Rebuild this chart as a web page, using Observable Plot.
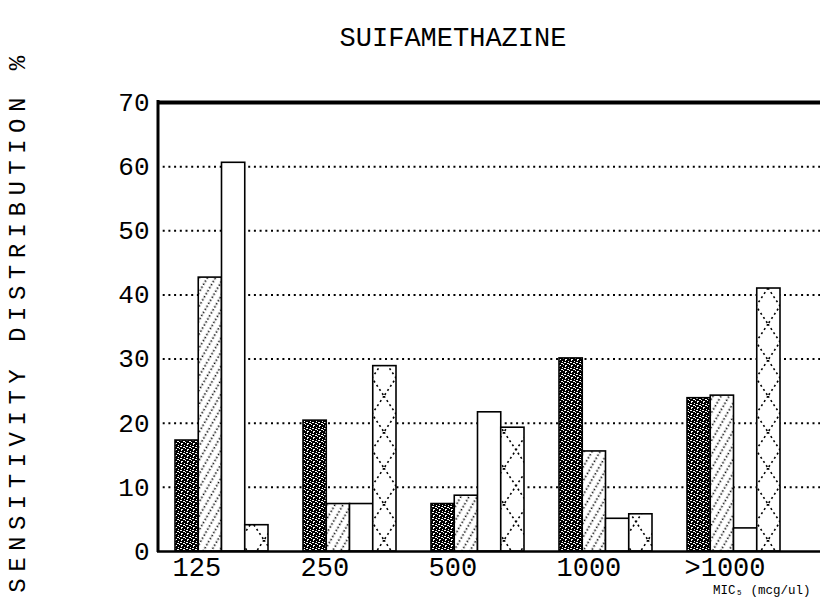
<!DOCTYPE html>
<html>
<head>
<meta charset="utf-8">
<script src="https://cdn.jsdelivr.net/npm/d3@7"></script>
<script src="https://cdn.jsdelivr.net/npm/@observablehq/plot@0.6"></script>
<style>
  html, body { margin: 0; padding: 0; background: white; }
</style>
</head>
<body>
<div id="chart"></div>
<script>
// ---- data ----
const groups = ["125", "250", "500", "1000", ">1000"];
const series1 = [17.3, 20.4, 7.4, 30.1, 23.9];   // dense stipple
const series2 = [42.7, 7.4, 8.7, 15.6, 24.3];    // diagonal hatch
const series3 = [60.6, 7.4, 21.7, 5.1, 3.6];     // plain white
const series4 = [4.1, 28.9, 19.3, 5.8, 41.0];    // cross hatch
const yTicks = [0, 10, 20, 30, 40, 50, 60, 70];
const gridTicks = [10, 20, 30, 40, 50, 60];
const title = "SUIFAMETHAZINE";
const yLabel = "SENSITIVITY DISTRIBUTION %";
const xNote = "MIC\u2085 (mcg/ul)";

const seriesList = [series1, series2, series3, series4];
const fills = ["url(#p1)", "url(#p2)", "white", "url(#p4)"];
const rows = groups.map((g, i) => ({group: g, v: seriesList.map(s => s[i])}));

const FONT = "Liberation Mono, DejaVu Sans Mono, monospace";
// within a 128px group band the four bars occupy 18..111
const barMarks = seriesList.map((s, k) =>
  Plot.barY(rows, {
    x: "group",
    y: d => d.v[k],
    fill: fills[k],
    stroke: "black",
    strokeWidth: 1.6,
    insetLeft: 18 + 23.25 * k,
    insetRight: 110 - 23.25 * (k + 1)
  })
);

const leftAxisLine = (index, scales, values, dims) =>
  d3.create("svg:line")
    .attr("x1", dims.marginLeft + 1).attr("x2", dims.marginLeft + 1)
    .attr("y1", dims.marginTop - 2).attr("y2", dims.height - dims.marginBottom + 1)
    .attr("stroke", "black").attr("stroke-width", 3).node();

const svg = Plot.plot({
  width: 820,
  height: 600,
  marginTop: 102,
  marginBottom: 49,
  marginLeft: 157,
  marginRight: 0,
  style: {background: "white", fontFamily: FONT, color: "black"},
  x: {type: "band", domain: groups, range: [157, 797], padding: 0, axis: null},
  y: {domain: [0, 70], label: null},
  marks: [
    Plot.ruleY(gridTicks, {stroke: "black", strokeWidth: 2, strokeDasharray: "2,3.7"}),
    ...barMarks,
    Plot.ruleY([70], {stroke: "black", strokeWidth: 4}),
    Plot.ruleY([0], {stroke: "black", strokeWidth: 2.5}),
    leftAxisLine,
    Plot.axisY({ticks: yTicks, tickSize: 0, tickPadding: 8, fontSize: 26, fontFamily: FONT, label: null}),
    Plot.text(groups, {x: d => d, frameAnchor: "bottom", lineAnchor: "middle", dy: 16, dx: -49,
      textAnchor: "start", fontSize: 27, fontFamily: FONT}),
    Plot.text([title], {frameAnchor: "top", lineAnchor: "middle", textAnchor: "middle", dx: -36, dy: -65,
      fontSize: 27, fontFamily: FONT}),
    Plot.text([yLabel], {frameAnchor: "left", lineAnchor: "middle", textAnchor: "middle", dx: -140, dy: -6,
      rotate: -90, fontSize: 24, fontFamily: FONT}),
    Plot.text([xNote], {frameAnchor: "bottom-right", lineAnchor: "middle", dx: -10, dy: 38, textAnchor: "end",
      fontSize: 12.5, fontFamily: FONT})
  ]
});

// widen the letter spacing of the rotated axis title
d3.select(svg).selectAll("text").filter(function() { return this.textContent === yLabel; })
  .attr("letter-spacing", 6.5);

// patterns
const defs = d3.select(svg).insert("defs", ":first-child");
const p1 = defs.append("pattern").attr("id", "p1").attr("patternUnits", "userSpaceOnUse")
  .attr("width", 6).attr("height", 6);
p1.append("rect").attr("width", 6).attr("height", 6).attr("fill", "black");
[[1,0,1,1],[4,1,1,1],[0,2,2,1],[3,3,2,1],[5,4,1,1],[1,5,2,1]].forEach(([x,y,w,h]) =>
  p1.append("rect").attr("x", x).attr("y", y).attr("width", w).attr("height", h).attr("fill", "white"));

const p2 = defs.append("pattern").attr("id", "p2").attr("patternUnits", "userSpaceOnUse")
  .attr("width", 7).attr("height", 7).attr("patternTransform", "rotate(30)");
p2.append("rect").attr("width", 7).attr("height", 7).attr("fill", "white");
p2.append("line").attr("x1", 3.5).attr("x2", 3.5).attr("y1", 0).attr("y2", 7)
  .attr("stroke", "black").attr("stroke-width", 1.6).attr("stroke-dasharray", "1.6,1.9");

const p4 = defs.append("pattern").attr("id", "p4").attr("patternUnits", "userSpaceOnUse")
  .attr("width", 24).attr("height", 36);
p4.append("rect").attr("width", 24).attr("height", 36).attr("fill", "white");
p4.append("line").attr("x1", 0).attr("y1", 0).attr("x2", 24).attr("y2", 36)
  .attr("stroke", "black").attr("stroke-width", 1.6).attr("stroke-dasharray", "2,3");
p4.append("line").attr("x1", 24).attr("y1", 0).attr("x2", 0).attr("y2", 36)
  .attr("stroke", "black").attr("stroke-width", 1.6).attr("stroke-dasharray", "2,3");

document.getElementById("chart").appendChild(svg);
</script>
</body>
</html>
